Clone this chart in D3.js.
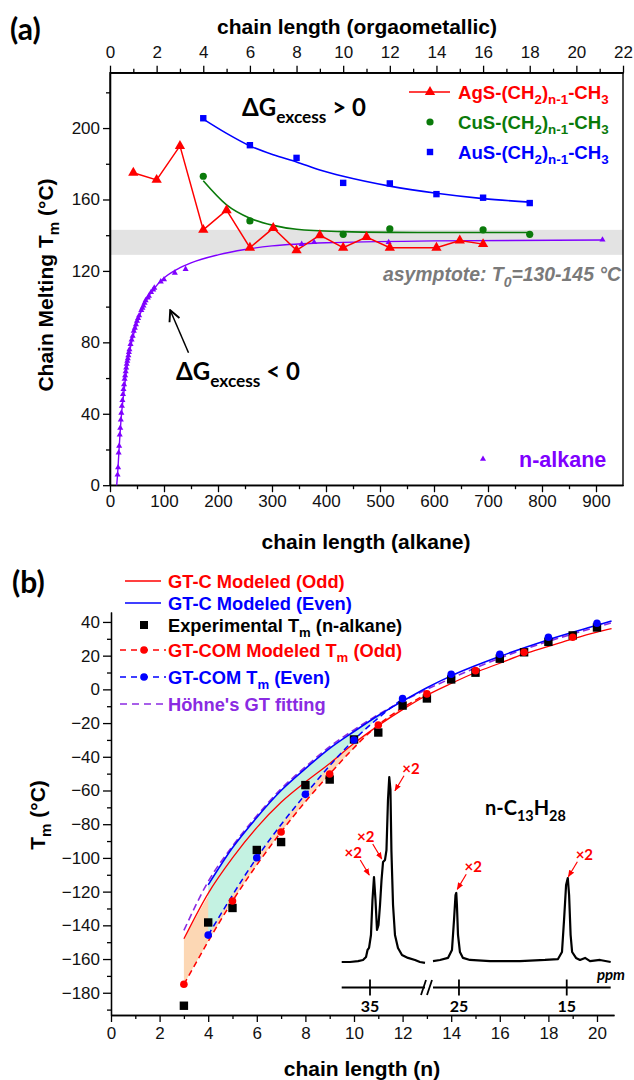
<!DOCTYPE html>
<meta charset="utf-8">
<head>
<style>
body { margin: 0; background: #fff; }
svg text { font-family: "Liberation Sans", Arial, sans-serif; }
.axis text { font-size: 17px; fill: #111; }
.axis path, .axis line { fill: none; stroke: #000; stroke-width: 1.3; }
.cal { font-family: Lato, "Noto Sans", sans-serif; font-weight: bold; }
</style>
</head>
<body>
<script src="https://d3js.org/d3.v7.min.js"></script>
<script>
// ---------- panel (a) data ----------
var agN  = [1, 2, 3, 4, 5, 6, 7, 8, 9, 10, 11, 12, 14, 15, 16];
var agTm = [175, 171, 190, 143, 154, 133, 144, 131.5, 140, 133, 139, 133, 133, 137, 135];
var cuN  = [4, 6, 10, 12, 16, 18];
var cuTm = [173, 148, 140.5, 143.5, 143, 140.5];
var cuFitN  = [4, 5, 6, 7, 8, 10, 12, 14, 18];
var cuFitTm = [170.5, 157, 149.5, 145.5, 143.3, 142, 141.6, 141.5, 141.5];
var auN  = [4, 6, 8, 10, 12, 14, 16, 18];
var auTm = [205.5, 190.4, 183.3, 169.3, 169, 163, 161, 158];
var auFitN  = [4, 5, 6, 7, 8, 9, 10, 12, 14, 16, 18];
var auFitTm = [205, 197, 190, 185, 181, 176.5, 173, 167.5, 163.5, 160.5, 158.5];
var alkN  = [14, 15, 16, 17, 18, 19, 20, 21, 22, 23, 24, 25, 26, 27, 28, 29, 30, 31, 32, 33, 34, 35, 36, 38, 40, 42, 44, 46, 48, 50, 52, 54, 58, 60, 62, 64, 66, 70, 72, 76, 80, 82, 94, 100, 120, 140, 355, 378, 516, 912];
var alkTm = [5.9, 9.9, 18.2, 22, 28.2, 32, 36.7, 40.5, 44.4, 47.6, 50.9, 53.7, 56.4, 59.5, 61.4, 63.7, 65.8, 67.9, 69.5, 71, 72.6, 74.4, 76, 79, 81.5, 83.5, 86.4, 88, 90, 92, 93.5, 95, 98, 99.3, 100.5, 102, 103.5, 105, 106, 108, 109.5, 110.5, 114, 115.2, 118.9, 121, 135, 136, 136, 137.5];
var alkFitN  = [12.4, 14, 16, 18, 20, 22, 25, 30, 35, 40, 50, 60, 70, 80, 100, 125, 150, 200, 250, 300, 400, 600, 912];
var alkFitTm = [0, 5.9, 16, 26, 35, 42, 50, 63, 73, 80, 91, 99, 105, 109.5, 116, 121, 124.5, 129, 132, 134, 135.8, 136.8, 137.3];
var asymLo = 129, asymHi = 143;
var xBotTicks = d3.range(0, 901, 100);
var xTopTicks = d3.range(0, 23, 2);
var yaTicks = d3.range(0, 201, 40);

// ---------- panel (b) data ----------
var expN  = [3, 4, 5, 6, 7, 8, 9, 10, 11, 12, 13, 14, 15, 16, 17, 18, 19, 20];
var expTm = [-187.7, -138.3, -129.7, -95.3, -90.6, -56.8, -53.5, -29.7, -25.6, -9.6, -5.4, 5.9, 9.9, 18.2, 22, 28.2, 32, 36.7];
var comOddN  = [3, 5, 7, 9, 11, 13, 15, 17, 19];
var comOddTm = [-175, -125.6, -84.6, -50.2, -21.1, -2.7, 11.1, 22, 30.9];
var comEvenN  = [4, 6, 8, 10, 12, 14, 16, 18, 20];
var comEvenTm = [-145.8, -99.9, -62.3, -30, -5.5, 9, 20.8, 30.9, 39.2];
var gtcOddN  = [3, 4, 5, 6, 7, 8, 9, 10, 11, 12, 13, 14, 15, 16, 17, 18, 19, 20, 20.6];
var gtcOddTm = [-148, -121, -100, -82, -67, -55, -44, -32, -21.5, -12, -3.5, 3.5, 10, 15.5, 21, 25.5, 30, 34, 36];
var gtcEvenN  = [4, 5, 6, 7, 8, 9, 10, 11, 12, 13, 14, 16, 18, 20, 20.6];
var gtcEvenTm = [-116, -94, -76, -60, -47, -35, -25, -15.5, -7, 1, 8, 19.5, 29.5, 38, 40.5];
var hohneN  = [3, 4, 5, 6, 7, 8, 9, 10, 11, 12, 13, 14, 16, 18, 20, 20.6];
var hohneTm = [-143, -114, -93, -75, -59, -46, -34, -24, -15, -7, 0, 6.5, 18.5, 28.5, 37, 39.5];
var xbTicks = d3.range(0, 21, 2);
var ybTicks = d3.range(-180, 41, 20);

// 13C NMR inset (ppm, relative intensity), two segments around the axis break
var specLeftPpm = [37.63, 36.86, 36.11, 35.65, 35.37, 35.23, 35.09, 34.91, 34.77, 34.63, 34.49, 34.35, 34.21, 34.07, 33.93, 33.79, 33.61, 33.47, 33.33, 33.21, 33.10, 33.01, 32.86, 32.68, 32.40, 32.03, 31.47, 30.82, 30.36, 29.89];
var specLeftInt = [0, 0, 0.005, 0.011, 0.027, 0.065, 0.076, 0.146, 0.335, 0.459, 0.335, 0.173, 0.2, 0.308, 0.443, 0.54, 0.551, 0.605, 0.876, 1.0, 0.93, 0.6, 0.308, 0.146, 0.076, 0.038, 0.022, 0.011, 0, -0.005];
var specRightPpm = [27.41, 26.76, 26.02, 25.65, 25.46, 25.32, 25.25, 25.19, 25.09, 24.91, 24.63, 23.98, 22.12, 19.34, 17.01, 15.81, 15.44, 15.25, 15.06, 14.90, 14.78, 14.64, 14.50, 14.14, 13.77, 13.30, 12.84, 11.91, 10.92];
var specRightInt = [0.005, 0.011, 0.022, 0.065, 0.227, 0.362, 0.373, 0.308, 0.146, 0.054, 0.022, 0.011, 0.005, 0.005, 0.011, 0.016, 0.054, 0.227, 0.416, 0.454, 0.362, 0.146, 0.054, 0.022, 0.011, 0.022, 0.005, 0.011, 0];
var x2Seg = ["L", "L", "L", "R", "R"];
var x2Ppm = [35.07, 33.91, 32.68, 25.16, 14.85];
var x2Int = [0.47, 0.557, 0.926, 0.393, 0.461];
var x2Dir = [-1, -1, 1, 1, 1];

var svg = d3.select("body").append("svg").attr("width", 634).attr("height", 1080);

function rich(sel, parts, fs) {
  var t = sel.append("text").attr("font-size", fs);
  var shift = 0;
  parts.forEach(function(p) {
    var s = p[1] === "sub" ? 0.3 * fs : 0;
    var ts = t.append("tspan").text(p[0]).attr("dy", s - shift);
    if (p[1] === "sub") ts.attr("font-size", fs * 0.72);
    shift = s;
  });
  return t;
}

// ================= PANEL (a) =================
var xa = d3.scaleLinear().domain([0, 950]).range([110, 623]);
var xaTop = d3.scaleLinear().domain([0, 22]).range([110, 623]);
var ya = d3.scaleLinear().domain([0, 231]).range([485.2, 72.7]);

svg.append("rect").attr("x", xa(0)).attr("width", xa(950) - xa(0))
  .attr("y", ya(asymHi)).attr("height", ya(asymLo) - ya(asymHi)).attr("fill", "#e3e3e3");

svg.append("g").attr("class", "axis").attr("transform", "translate(0," + ya(0) + ")")
  .call(d3.axisBottom(xa).tickValues(xBotTicks).tickSize(7).tickSizeOuter(0));
svg.append("g").attr("class", "axis").attr("transform", "translate(0," + ya(0) + ")")
  .call(d3.axisBottom(xa).tickValues(d3.range(50, 950, 100)).tickSize(4).tickSizeOuter(0).tickFormat(""));
svg.append("g").attr("class", "axis").attr("transform", "translate(0," + ya(231) + ")")
  .call(d3.axisTop(xaTop).tickValues(xTopTicks).tickSize(7).tickSizeOuter(0).tickPadding(8));
svg.append("g").attr("class", "axis").attr("transform", "translate(0," + ya(231) + ")")
  .call(d3.axisTop(xaTop).tickValues(d3.range(1, 22, 2)).tickSize(4).tickSizeOuter(0).tickFormat(""));
svg.append("g").attr("class", "axis").attr("transform", "translate(" + xa(0) + ",0)")
  .call(d3.axisLeft(ya).tickValues(yaTicks).tickSize(7).tickSizeOuter(0));
svg.append("g").attr("class", "axis").attr("transform", "translate(" + xa(0) + ",0)")
  .call(d3.axisLeft(ya).tickValues(d3.range(20, 231, 40)).tickSize(4).tickSizeOuter(0).tickFormat(""));
svg.append("rect").attr("x", xa(0)).attr("y", ya(231)).attr("width", xa(950) - xa(0))
  .attr("height", ya(0) - ya(231)).attr("fill", "none").attr("stroke", "#000").attr("stroke-width", 1.4);

// fit curves
var lineTop = d3.line().x(function(d) { return xaTop(d[0]); }).y(function(d) { return ya(d[1]); });
svg.append("path").datum(d3.zip(cuFitN, cuFitTm)).attr("fill", "none").attr("stroke", "#0a7a0a")
  .attr("stroke-width", 1.6).attr("d", lineTop.curve(d3.curveMonotoneX));
svg.append("path").datum(d3.zip(auFitN, auFitTm)).attr("fill", "none").attr("stroke", "#0000ff")
  .attr("stroke-width", 1.6).attr("d", lineTop.curve(d3.curveMonotoneX));
svg.append("path").datum(d3.zip(alkFitN, alkFitTm)).attr("fill", "none").attr("stroke", "#7f00ff")
  .attr("stroke-width", 1.4)
  .attr("d", d3.line().x(function(d) { return xa(d[0]); }).y(function(d) { return ya(d[1]); }).curve(d3.curveMonotoneX));
svg.append("path").datum(d3.zip(agN, agTm)).attr("fill", "none").attr("stroke", "#ff0000")
  .attr("stroke-width", 1.5).attr("d", lineTop.curve(d3.curveLinear));

// markers
var tri = d3.symbol().type(d3.symbolTriangle);
svg.selectAll(".alk").data(d3.zip(alkN, alkTm)).enter().append("path")
  .attr("transform", function(d) { return "translate(" + xa(d[0]) + "," + ya(d[1]) + ")"; })
  .attr("d", tri.size(16)()).attr("fill", "#7f00ff");
svg.selectAll(".ag").data(d3.zip(agN, agTm)).enter().append("path")
  .attr("transform", function(d) { return "translate(" + xaTop(d[0]) + "," + ya(d[1]) + ")"; })
  .attr("d", d3.symbol().type(d3.symbolTriangle).size(46)()).attr("fill", "#ff0000");
svg.selectAll(".cu").data(d3.zip(cuN, cuTm)).enter().append("circle")
  .attr("cx", function(d) { return xaTop(d[0]); }).attr("cy", function(d) { return ya(d[1]); })
  .attr("r", 3.6).attr("fill", "#0a7a0a");
svg.selectAll(".au").data(d3.zip(auN, auTm)).enter().append("rect")
  .attr("x", function(d) { return xaTop(d[0]) - 3.2; }).attr("y", function(d) { return ya(d[1]) - 3.2; })
  .attr("width", 6.4).attr("height", 6.4).attr("fill", "#0000ff");

// legend (a)
svg.append("line").attr("x1", 409).attr("x2", 450).attr("y1", 92).attr("y2", 92).attr("stroke", "#ff0000").attr("stroke-width", 1.5);
svg.append("path").attr("transform", "translate(430,92)").attr("d", d3.symbol().type(d3.symbolTriangle).size(46)()).attr("fill", "#ff0000");
svg.append("circle").attr("cx", 430).attr("cy", 122).attr("r", 3.6).attr("fill", "#0a7a0a");
svg.append("rect").attr("x", 426.8).attr("y", 148.8).attr("width", 6.4).attr("height", 6.4).attr("fill", "#0000ff");
[["AgS", "#ff0000", 98.5], ["CuS", "#0a7a0a", 128.5], ["AuS", "#0000ff", 158.5]].forEach(function(r) {
  rich(svg, [[r[0] + "-(CH", ""], ["2", "sub"], [")", ""], ["n-1", "sub"], ["-CH", ""], ["3", "sub"]], 18.6)
    .attr("x", 458).attr("y", r[2]).attr("font-weight", "bold").attr("fill", r[1]);
});
svg.append("path").attr("transform", "translate(" + 483 + "," + 459 + ")").attr("d", tri.size(16)()).attr("fill", "#7f00ff");
svg.append("text").attr("x", 519).attr("y", 467).attr("font-size", 21.5).attr("font-weight", "bold")
  .attr("fill", "#7f00ff").text("n-alkane");

// annotations (a)
rich(svg, [["ΔG", ""], ["excess", "sub"], [" > 0", ""]], 24).attr("class", "cal").attr("x", 242).attr("y", 116);
rich(svg, [["ΔG", ""], ["excess", "sub"], [" < 0", ""]], 24).attr("class", "cal").attr("x", 176).attr("y", 380);
rich(svg, [["asymptote: T", ""], ["0", "sub"], ["=130-145 °C", ""]], 19.4).attr("x", 383).attr("y", 281)
  .attr("font-weight", "bold").attr("font-style", "italic").attr("fill", "#7a7a7a");
svg.append("defs").html(
  '<marker id="ah" viewBox="0 0 10 10" refX="9" refY="5" markerWidth="9" markerHeight="9" orient="auto"><path d="M1,1 L9,5 L1,9" fill="none" stroke="#000" stroke-width="1.4"/></marker>' +
  '<marker id="ahr" viewBox="0 0 10 10" refX="9" refY="5" markerWidth="6" markerHeight="6" orient="auto"><path d="M0,1 L10,5 L0,9 z" fill="#ff0000"/></marker>');
svg.append("line").attr("x1", xa(145.4)).attr("y1", ya(74.2)).attr("x2", xa(111.5)).attr("y2", ya(98))
  .attr("stroke", "#000").attr("stroke-width", 1.5).attr("marker-end", "url(#ah)");

// titles (a)
svg.append("text").attr("class", "cal").attr("x", 10).attr("y", 40).attr("font-size", 30).text("(a)");
svg.append("text").attr("x", 357).attr("y", 34).attr("text-anchor", "middle").attr("font-size", 21)
  .attr("font-weight", "bold").text("chain length (orgaometallic)");
svg.append("text").attr("x", 366).attr("y", 549).attr("text-anchor", "middle").attr("font-size", 21)
  .attr("font-weight", "bold").text("chain length (alkane)");
rich(svg.append("g").attr("transform", "translate(53,285) rotate(-90)"),
  [["Chain Melting T", ""], ["m", "sub"], [" (°C)", ""]], 21).attr("text-anchor", "middle").attr("font-weight", "bold");

// ================= PANEL (b) =================
var xb = d3.scaleLinear().domain([0, 20.7]).range([111, 614]);
var yb = d3.scaleLinear().domain([-193.2, 45.9]).range([1015, 612]);

svg.append("g").attr("class", "axis").attr("transform", "translate(0,1015)")
  .call(d3.axisBottom(xb).tickValues(xbTicks).tickSize(7).tickSizeOuter(0).tickPadding(5));
svg.append("g").attr("class", "axis").attr("transform", "translate(0,1015)")
  .call(d3.axisBottom(xb).tickValues(d3.range(1, 21, 2)).tickSize(4).tickSizeOuter(0).tickFormat(""));
svg.append("g").attr("class", "axis").attr("transform", "translate(111,0)")
  .call(d3.axisLeft(yb).tickValues(ybTicks).tickSize(8).tickSizeOuter(0));
svg.append("g").attr("class", "axis").attr("transform", "translate(111,0)")
  .call(d3.axisLeft(yb).tickValues(d3.range(-190, 41, 20)).tickSize(4).tickSizeOuter(0).tickFormat(""));

function lookup(ns, ts, n) { return ts[ns.indexOf(n)]; }
var orange = comOddN.filter(function(n) { return n <= 13; })
  .map(function(n) { return [n, lookup(gtcOddN, gtcOddTm, n), lookup(comOddN, comOddTm, n)]; });
var mint = comEvenN.filter(function(n) { return n <= 12; })
  .map(function(n) { return [n, lookup(gtcEvenN, gtcEvenTm, n), lookup(comEvenN, comEvenTm, n)]; });
var area = d3.area().x(function(d) { return xb(d[0]); }).y0(function(d) { return yb(d[2]); })
  .y1(function(d) { return yb(d[1]); }).curve(d3.curveMonotoneX);
svg.append("path").datum(orange).attr("fill", "#fcd7b4").attr("d", area);
svg.append("path").datum(mint).attr("fill", "#c4f2e2").attr("d", area);

var lb = d3.line().x(function(d) { return xb(d[0]); }).y(function(d) { return yb(d[1]); }).curve(d3.curveMonotoneX);
svg.append("path").datum(d3.zip(hohneN, hohneTm)).attr("fill", "none").attr("stroke", "#8a2be2")
  .attr("stroke-width", 1.6).attr("stroke-dasharray", "7,4").attr("d", lb);
svg.append("path").datum(d3.zip(gtcEvenN, gtcEvenTm)).attr("fill", "none").attr("stroke", "#0000ff")
  .attr("stroke-width", 1.6).attr("d", lb);
svg.append("path").datum(d3.zip(gtcOddN, gtcOddTm)).attr("fill", "none").attr("stroke", "#ff0000")
  .attr("stroke-width", 1.3).attr("d", lb);
svg.append("path").datum(orange.map(function(d) { return [d[0], d[2]]; })).attr("fill", "none")
  .attr("stroke", "#ff0000").attr("stroke-width", 1.5).attr("stroke-dasharray", "6,4").attr("d", lb);
svg.append("path").datum(mint.map(function(d) { return [d[0], d[2]]; })).attr("fill", "none")
  .attr("stroke", "#0000ff").attr("stroke-width", 1.5).attr("stroke-dasharray", "6,4").attr("d", lb);

svg.selectAll(".exp").data(d3.zip(expN, expTm)).enter().append("rect")
  .attr("x", function(d) { return xb(d[0]) - 4.2; }).attr("y", function(d) { return yb(d[1]) - 4.2; })
  .attr("width", 8.4).attr("height", 8.4).attr("fill", "#000");
svg.selectAll(".codd").data(d3.zip(comOddN, comOddTm)).enter().append("circle")
  .attr("cx", function(d) { return xb(d[0]); }).attr("cy", function(d) { return yb(d[1]); })
  .attr("r", 3.8).attr("fill", "#ff0000");
svg.selectAll(".ceven").data(d3.zip(comEvenN, comEvenTm)).enter().append("circle")
  .attr("cx", function(d) { return xb(d[0]); }).attr("cy", function(d) { return yb(d[1]); })
  .attr("r", 3.8).attr("fill", "#0000ff");

// legend (b)
var lg = svg.append("g");
lg.append("line").attr("x1", 125).attr("x2", 161).attr("y1", 581).attr("y2", 581).attr("stroke", "#ff0000").attr("stroke-width", 1.4);
lg.append("line").attr("x1", 125).attr("x2", 161).attr("y1", 603).attr("y2", 603).attr("stroke", "#0000ff").attr("stroke-width", 1.4);
lg.append("rect").attr("x", 140).attr("y", 621).attr("width", 8).attr("height", 8).attr("fill", "#000");
lg.append("line").attr("x1", 120).attr("x2", 166).attr("y1", 650).attr("y2", 650).attr("stroke", "#ff0000").attr("stroke-width", 1.4).attr("stroke-dasharray", "6,5");
lg.append("circle").attr("cx", 144).attr("cy", 650).attr("r", 3.8).attr("fill", "#ff0000");
lg.append("line").attr("x1", 120).attr("x2", 166).attr("y1", 677).attr("y2", 677).attr("stroke", "#0000ff").attr("stroke-width", 1.4).attr("stroke-dasharray", "6,5");
lg.append("circle").attr("cx", 144).attr("cy", 677).attr("r", 3.8).attr("fill", "#0000ff");
lg.append("line").attr("x1", 120).attr("x2", 166).attr("y1", 704).attr("y2", 704).attr("stroke", "#8a2be2").attr("stroke-width", 1.6).attr("stroke-dasharray", "7,5");
[[[["GT-C Modeled (Odd)", ""]], "#ff0000", 587.5],
 [[["GT-C Modeled (Even)", ""]], "#0000ff", 609.5],
 [[["Experimental T", ""], ["m", "sub"], [" (n-alkane)", ""]], "#000", 631.5],
 [[["GT-COM Modeled T", ""], ["m", "sub"], [" (Odd)", ""]], "#ff0000", 656.5],
 [[["GT-COM T", ""], ["m", "sub"], [" (Even)", ""]], "#0000ff", 683.5],
 [[["Höhne's GT fitting", ""]], "#8a2be2", 710.5]].forEach(function(r) {
  rich(lg, r[0], 18.3).attr("x", 168).attr("y", r[2]).attr("font-weight", "bold").attr("fill", r[1]);
});

// inset 13C NMR
var xL = d3.scaleLinear().domain([37.63, 29.89]).range([341.7, 425]);
var xR = d3.scaleLinear().domain([27.41, 10.92]).range([433, 610.7]);
var yI = d3.scaleLinear().domain([0, 1]).range([962, 777]);
svg.append("path").datum(d3.zip(specLeftPpm, specLeftInt)).attr("fill", "none").attr("stroke", "#000")
  .attr("stroke-width", 2.2).attr("stroke-linejoin", "round")
  .attr("d", d3.line().x(function(d) { return xL(d[0]); }).y(function(d) { return yI(d[1]); }));
svg.append("path").datum(d3.zip(specRightPpm, specRightInt)).attr("fill", "none").attr("stroke", "#000")
  .attr("stroke-width", 2.2).attr("stroke-linejoin", "round")
  .attr("d", d3.line().x(function(d) { return xR(d[0]); }).y(function(d) { return yI(d[1]); }));

[[xL, [35]], [xR, [25, 15]]].forEach(function(s) {
  var g = svg.append("g").attr("transform", "translate(0,987.5)");
  g.append("line").attr("x1", s[0].range()[0]).attr("x2", s[0].range()[1]).attr("stroke", "#000").attr("stroke-width", 1.8);
  g.selectAll(".tk").data(s[1]).enter().append("line")
    .attr("x1", function(d) { return s[0](d); }).attr("x2", function(d) { return s[0](d); })
    .attr("y1", -8).attr("y2", 8).attr("stroke", "#000").attr("stroke-width", 1.8);
  g.selectAll(".tl").data(s[1]).enter().append("text").attr("class", "cal")
    .attr("x", function(d) { return s[0](d); }).attr("y", 24).attr("text-anchor", "middle")
    .attr("font-size", 16).text(function(d) { return d; });
});
svg.append("path").attr("d", "M421,995 L426,980 M427,995 L432,980").attr("stroke", "#000").attr("stroke-width", 1.8);
svg.append("text").attr("class", "cal").attr("x", 611).attr("y", 980).attr("text-anchor", "middle")
  .attr("font-size", 15).attr("font-style", "italic").text("ppm");
rich(svg, [["n-C", ""], ["13", "sub"], ["H", ""], ["28", "sub"]], 20).attr("class", "cal").attr("x", 485).attr("y", 815);

x2Ppm.forEach(function(p, i) {
  var tx = (x2Seg[i] === "L" ? xL : xR)(p), ty = yI(x2Int[i]), dir = x2Dir[i];
  svg.append("line").attr("x1", tx + dir * 9).attr("y1", ty - 15).attr("x2", tx).attr("y2", ty)
    .attr("stroke", "#ff0000").attr("stroke-width", 1.2).attr("marker-end", "url(#ahr)");
  svg.append("text").attr("class", "cal").attr("x", tx + dir * 16).attr("y", ty - 17)
    .attr("text-anchor", "middle").attr("font-size", 15).attr("fill", "#ff0000").text("×2");
});

// titles (b)
svg.append("text").attr("class", "cal").attr("x", 12).attr("y", 593).attr("font-size", 30).text("(b)");
svg.append("text").attr("x", 362).attr("y", 1076).attr("text-anchor", "middle").attr("font-size", 21)
  .attr("font-weight", "bold").text("chain length (n)");
rich(svg.append("g").attr("transform", "translate(45,815) rotate(-90)"),
  [["T", ""], ["m", "sub"], [" (°C)", ""]], 21).attr("text-anchor", "middle").attr("font-weight", "bold");
</script>
</body>
